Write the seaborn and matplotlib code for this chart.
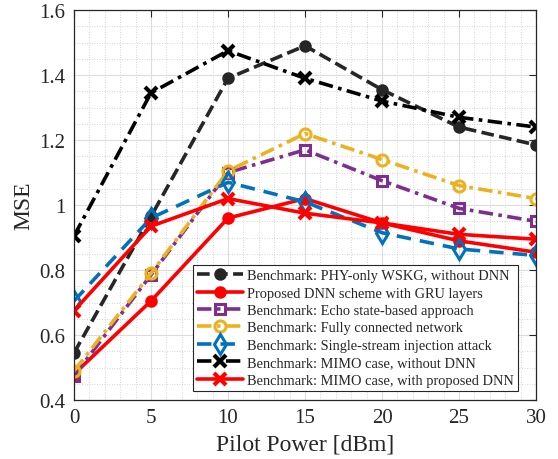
import numpy as np
import pandas as pd
import matplotlib
matplotlib.use("Agg")
import matplotlib.pyplot as plt
import seaborn as sns
from matplotlib.ticker import MultipleLocator

pilot_power = [0, 5, 10, 15, 20, 25, 30]
labels = [
    "Benchmark: PHY-only WSKG, without DNN",
    "Proposed DNN scheme with GRU layers",
    "Benchmark: Echo state-based approach",
    "Benchmark: Fully connected network",
    "Benchmark: Single-stream injection attack",
    "Benchmark: MIMO case, without DNN",
    "Benchmark: MIMO case, with proposed DNN",
]
phy_only = [0.545, 0.965, 1.39, 1.49, 1.355, 1.24, 1.185]
proposed_gru = [0.48, 0.705, 0.96, 1.02, 0.945, 0.89, 0.855]
echo_state = [0.475, 0.785, 1.10, 1.17, 1.075, 0.99, 0.95]
fully_conn = [0.49, 0.79, 1.105, 1.22, 1.14, 1.06, 1.02]
single_stream = [0.705, 0.96, 1.07, 1.01, 0.915, 0.865, 0.845]
mimo_without = [0.905, 1.345, 1.475, 1.39, 1.32, 1.27, 1.24]
mimo_with = [0.675, 0.935, 1.02, 0.975, 0.945, 0.91, 0.895]

series = [phy_only, proposed_gru, echo_state, fully_conn, single_stream, mimo_without, mimo_with]

styles = [
    dict(color="#262626", linestyle=(0, (3.5, 1.5)), marker="o", mfc="#262626", ms=7, mew=2.0),
    dict(color="#ff0000", linestyle="-", marker="o", mfc="#ff0000", ms=7, mew=2.0),
    dict(color="#7e2f8e", linestyle=(0, (4, 1.5, 1, 1.5)), marker="s", mfc="none", ms=7, mew=2.2),
    dict(color="#edb120", linestyle=(0, (4, 1.5, 1, 1.5)), marker="o", mfc="none", ms=8, mew=2.2),
    dict(color="#0072bd", linestyle=(0, (4, 2.5)), marker="d", mfc="none", ms=10, mew=2.2),
    dict(color="#000000", linestyle=(0, (4, 1.5, 1, 1.5)), marker="x", mfc="#000000", ms=9, mew=3.0),
    dict(color="#ff0000", linestyle="-", marker="x", mfc="#ff0000", ms=9, mew=3.0),
]

rows = []
for lab, vals in zip(labels, series):
    for x, y in zip(pilot_power, vals):
        rows.append({"Pilot Power [dBm]": x, "MSE": y, "series": lab})
df = pd.DataFrame(rows)

sns.set_style("white")
plt.rcParams["font.family"] = ["Liberation Serif", "DejaVu Serif"]

fig = plt.figure(figsize=(5.58, 4.6), dpi=100)
ax = fig.add_axes([0.1326, 0.128, 0.828, 0.848])

for lab, st in zip(labels, styles):
    sub = df[df["series"] == lab]
    sns.lineplot(data=sub, x="Pilot Power [dBm]", y="MSE", ax=ax, color=st["color"],
                 linestyle=st["linestyle"], linewidth=2.6, marker=st["marker"],
                 markersize=st["ms"], markerfacecolor=st["mfc"], markeredgecolor=st["color"],
                 markeredgewidth=st["mew"], label=lab, errorbar=None, sort=False)

ax.set_xlim(0, 30)
ax.set_ylim(0.4, 1.6)
ax.xaxis.set_major_locator(MultipleLocator(5))
ax.xaxis.set_minor_locator(MultipleLocator(1))
ax.yaxis.set_minor_locator(MultipleLocator(0.05))
ax.set_yticks([0.4, 0.6, 0.8, 1.0, 1.2, 1.4, 1.6])
ax.set_yticklabels(["0.4", "0.6", "0.8", "1", "1.2", "1.4", "1.6"])
ax.grid(True, which="major", color="#dcdcdc", linewidth=0.8, linestyle="-")
ax.grid(True, which="minor", color="#c8c8c8", linewidth=0.6, linestyle=(0, (1, 2)))
ax.set_axisbelow(True)
ax.tick_params(axis="both", which="major", direction="in", length=5, labelsize=15,
               top=True, right=True, color="#262626", pad=6)
ax.tick_params(axis="both", which="minor", length=0)
for sp in ax.spines.values():
    sp.set_color("#262626")
    sp.set_linewidth(0.9)
ax.set_xlabel("Pilot Power [dBm]", fontsize=17)
ax.set_ylabel("MSE", fontsize=17)

leg = ax.legend(loc="lower right", bbox_to_anchor=(0.961, 0.023), fontsize=10.4, frameon=True,
                fancybox=False, edgecolor="#262626", framealpha=1, handlelength=3.2,
                labelspacing=0.3, borderpad=0.3, handletextpad=0.25, borderaxespad=0)
leg.get_frame().set_linewidth(0.8)

fig.savefig("out.png", dpi=100)
